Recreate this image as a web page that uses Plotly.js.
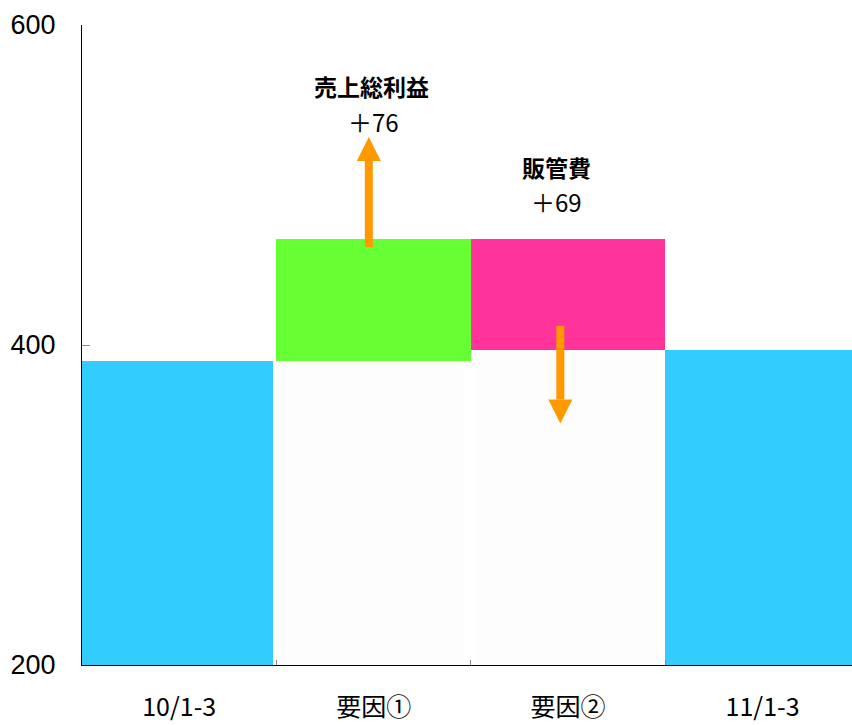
<!DOCTYPE html>
<html>
<head>
<meta charset="utf-8">
<script src="https://cdn.plot.ly/plotly-3.0.1.min.js"></script>
<style>html,body{margin:0;padding:0;background:#fff;}#chart{width:852px;height:725px;}</style>
</head>
<body>
<div id="chart"></div>
<script>
// ---- data ----
const categories = ['10/1-3', '要因①', '要因②', '11/1-3'];
const startValue = 390;      // 10/1-3
const grossProfitChange = 76; // 売上総利益 +76
const sgaChange = 69;         // 販管費 +69 (decreases profit)
const endValue = 397;         // 11/1-3
const factorLabels = ['売上総利益', '販管費'];
const changeLabels = ['＋76', '＋69'];
const yTicks = [200, 400, 600];

// derived
const peak = startValue + grossProfitChange;          // 466
const totals = [startValue, null, null, endValue];
const baseVals = [null, startValue, peak - sgaChange, null];
const changeBase = [null, startValue, peak - sgaChange, null];
const changeVals = [null, grossProfitChange, sgaChange, null];

const BLUE = '#33CCFF', GREEN = '#66FF33', PINK = '#FF3399', ORANGE = '#FF9900';
const CJK = '"Noto Sans CJK JP", "Noto Sans", sans-serif';

const traces = [
  { type: 'bar', x: categories, y: totals, marker: { color: BLUE },
    width: [0.98, 1, 1, 1], offset: -0.5, hoverinfo: 'skip' },
  { type: 'bar', x: categories, y: baseVals, marker: { color: '#FDFDFD' },
    width: 0.93, offset: -0.47, hoverinfo: 'skip' },
  { type: 'bar', x: categories, y: changeVals, base: changeBase,
    marker: { color: [null, GREEN, PINK, null] },
    width: 1, offset: -0.5, hoverinfo: 'skip' }
];

// arrows (shaft line + triangular head), positioned from the data values
const a1x = 0.975, a1tail = startValue + 71.25, a1tip = peak + 64;
const a2x = 1.96, a2tail = peak - 54, a2tip = endValue - 46;
const headLen = 15, headHalf = 0.062;
function arrow(x, tail, tip) {
  const dir = tip > tail ? 1 : -1;
  const baseY = tip - dir * headLen;
  return [
    { type: 'line', xref: 'x', yref: 'y', x0: x, x1: x, y0: tail, y1: baseY,
      line: { color: ORANGE, width: 8 }, layer: 'above' },
    { type: 'path', xref: 'x', yref: 'y',
      path: `M ${x - headHalf} ${baseY} L ${x + headHalf} ${baseY} L ${x} ${tip} Z`,
      fillcolor: ORANGE, line: { width: 0 }, layer: 'above' }
  ];
}

const layout = {
  width: 852, height: 725,
  margin: { l: 82, r: 0, t: 25, b: 60, pad: 0 },
  paper_bgcolor: '#fff', plot_bgcolor: '#fff',
  barmode: 'overlay', bargap: 0,
  showlegend: false,
  xaxis: {
    type: 'category', range: [-0.5, 3.46],
    showline: true, linecolor: '#000', linewidth: 1,
    ticks: 'inside', tickson: 'boundaries', ticklen: 5, tickcolor: '#888',
    showgrid: false, zeroline: false,
    ticklabelstandoff: 20,
    tickfont: { family: CJK, size: 25, color: '#000' }
  },
  yaxis: {
    range: [200, 600], tickvals: yTicks, ticktext: yTicks.map(String),
    showline: true, linecolor: '#000', linewidth: 1,
    ticks: 'inside', ticklen: 8, tickcolor: '#888',
    showgrid: false, zeroline: false,
    ticklabelstandoff: 20,
    tickfont: { family: 'Liberation Sans, Arial, sans-serif', size: 27, color: '#000' }
  },
  shapes: [...arrow(a1x, a1tail, a1tip), ...arrow(a2x, a2tail, a2tip)],
  annotations: [
    { xref: 'x', yref: 'y', x: 0.99, y: 562, text: '<b>' + factorLabels[0] + '</b>', showarrow: false,
      font: { family: CJK, size: 23, color: '#000' } },
    { xref: 'x', yref: 'y', x: 1.0, y: 540, text: changeLabels[0], showarrow: false,
      font: { family: CJK, size: 24, color: '#000' } },
    { xref: 'x', yref: 'y', x: 1.942, y: 511, text: '<b>' + factorLabels[1] + '</b>', showarrow: false,
      font: { family: CJK, size: 23, color: '#000' } },
    { xref: 'x', yref: 'y', x: 1.942, y: 490, text: changeLabels[1], showarrow: false,
      font: { family: CJK, size: 24, color: '#000' } }
  ]
};

Plotly.newPlot('chart', traces, layout, { displayModeBar: false, staticPlot: true });
</script>
</body>
</html>
